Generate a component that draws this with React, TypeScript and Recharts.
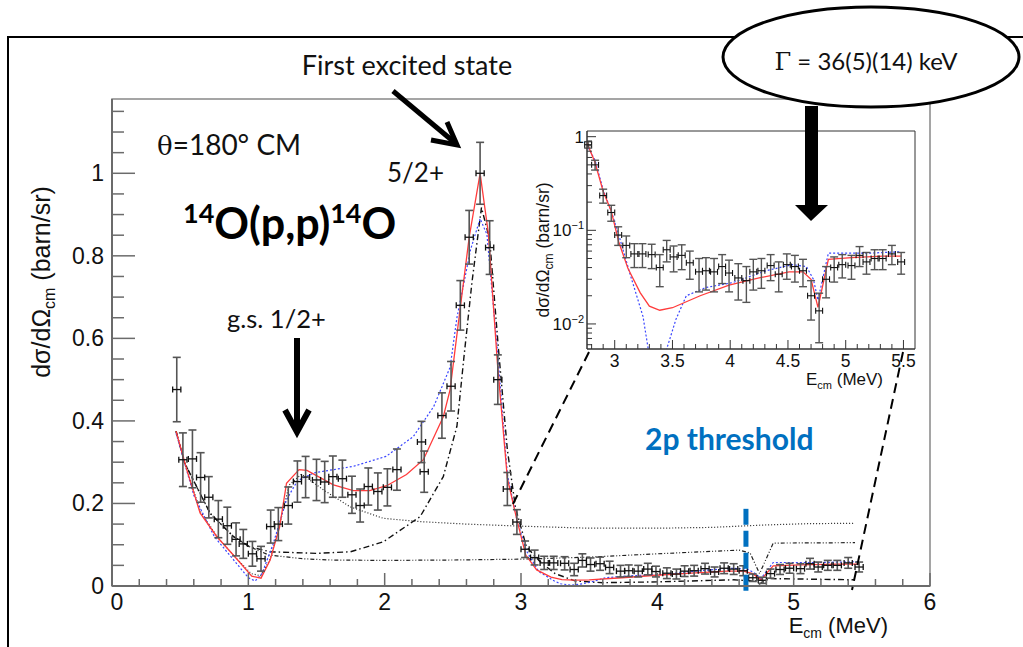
import React from 'react'
import {
  ComposedChart, Line, Scatter, XAxis, YAxis, ErrorBar,
  ReferenceArea, ReferenceLine,
} from 'recharts'

// measured points, 14O(p,p) at 180 deg CM
const dataE = [
  0.475, 0.52, 0.59, 0.65, 0.71, 0.78, 0.846, 0.91, 0.963, 1.03, 1.093, 1.164, 1.22, 1.293,
  1.36, 1.42, 1.5, 1.56, 1.62, 1.69, 1.76, 1.82, 1.88, 1.95, 2.02, 2.09, 2.27, 2.29, 2.42,
  2.487, 2.555, 2.62, 2.7, 2.77, 2.83, 2.9, 2.97, 3.03, 3.1, 3.17, 3.24, 3.32, 3.39, 3.45,
  3.51, 3.58, 3.65, 3.73, 3.79, 3.86, 3.93, 3.99, 4.07, 4.14, 4.2, 4.27, 4.35, 4.42, 4.49,
  4.56, 4.63, 4.7, 4.77, 4.83, 4.9, 4.97, 5.05, 5.12, 5.18, 5.25, 5.32, 5.4, 5.48,
]
const dataXs = [
  0.476, 0.306, 0.308, 0.263, 0.215, 0.162, 0.146, 0.113, 0.102, 0.078, 0.066, 0.144, 0.15, 0.195,
  0.253, 0.264, 0.257, 0.252, 0.265, 0.26, 0.221, 0.195, 0.241, 0.229, 0.239, 0.282, 0.349, 0.277, 0.413,
  0.484, 0.68, 0.845, 1.0, 0.82, 0.5, 0.235, 0.155, 0.089, 0.069, 0.056, 0.056, 0.055, 0.04, 0.062,
  0.052, 0.054, 0.045, 0.036, 0.037, 0.036, 0.041, 0.035, 0.031, 0.029, 0.036, 0.037, 0.042, 0.034, 0.043,
  0.041, 0.037, 0.02, 0.0138, 0.03, 0.04, 0.043, 0.042, 0.054, 0.046, 0.05, 0.05, 0.056, 0.046,
]
const dataErr = [
  0.078, 0.065, 0.07, 0.06, 0.05, 0.045, 0.045, 0.04, 0.035, 0.03, 0.03, 0.04, 0.04, 0.045,
  0.05, 0.05, 0.05, 0.05, 0.05, 0.045, 0.045, 0.04, 0.045, 0.045, 0.045, 0.05, 0.05, 0.05, 0.055,
  0.06, 0.06, 0.065, 0.075, 0.065, 0.06, 0.04, 0.03, 0.02, 0.018, 0.016, 0.016, 0.016, 0.015, 0.016,
  0.016, 0.016, 0.015, 0.014, 0.014, 0.014, 0.014, 0.013, 0.013, 0.012, 0.013, 0.013, 0.013, 0.012, 0.013,
  0.013, 0.012, 0.009, 0.0075, 0.011, 0.012, 0.012, 0.012, 0.013, 0.012, 0.012, 0.012, 0.013, 0.012,
]
const binHalf = 0.03

// R-matrix fit (red)
const fitE = [
  0.47, 0.55, 0.646, 0.768, 0.89, 1.025, 1.093, 1.16, 1.23, 1.28, 1.372, 1.43, 1.624, 1.77, 1.89,
  2.015, 2.16, 2.284, 2.43, 2.48, 2.553, 2.62, 2.7, 2.76, 2.827, 2.9, 2.97, 3.035, 3.115, 3.22,
  3.3, 3.39, 3.5, 3.74, 3.99, 4.25, 4.51, 4.63, 4.7, 4.76, 4.85, 5.05, 5.32, 5.48,
]
const fitXs = [
  0.375, 0.28, 0.177, 0.12, 0.075, 0.024, 0.019, 0.063, 0.144, 0.249, 0.282, 0.28, 0.245, 0.231, 0.231,
  0.243, 0.27, 0.306, 0.41, 0.476, 0.67, 0.845, 1.0, 0.856, 0.54, 0.261, 0.16, 0.075, 0.039, 0.0216,
  0.0155, 0.014, 0.0149, 0.02, 0.026, 0.031, 0.036, 0.036, 0.03, 0.015, 0.049, 0.051, 0.053, 0.053,
]

// alternative calculation (blue dotted)
const altE = [
  0.47, 0.6, 0.75, 0.9, 1.0, 1.05, 1.1, 1.18, 1.28, 1.36, 1.48, 1.77, 2.01, 2.21, 2.36, 2.48,
  2.53, 2.63, 2.7, 2.75, 2.83, 2.9, 2.97, 3.04, 3.13, 3.245, 3.29, 3.37, 3.45, 3.53, 3.62, 3.79,
  4.02, 4.31, 4.54, 4.66, 4.72, 4.76, 4.85, 5.2, 5.48,
]
const altXs = [
  0.37, 0.22, 0.12, 0.06, 0.02, 0.012, 0.03, 0.1, 0.209, 0.255, 0.274, 0.29, 0.314, 0.362, 0.435, 0.53,
  0.65, 0.815, 0.89, 0.852, 0.56, 0.27, 0.16, 0.085, 0.035, 0.012, 0.0054, 0.002, 0.0054, 0.0112, 0.02, 0.0245,
  0.0276, 0.037, 0.043, 0.041, 0.03, 0.018, 0.057, 0.057, 0.059,
]

// partial-wave contributions (black)
const sWaveE = [
  0.47, 0.55, 0.65, 0.77, 0.89, 1.02, 1.09, 1.16, 1.23, 1.3, 1.39, 1.55, 1.746, 1.99, 2.26, 2.6,
  3.0, 3.5, 4.0, 4.4, 4.8, 5.1, 5.45,
]
const sWaveXs = [
  0.375, 0.28, 0.18, 0.12, 0.075, 0.03, 0.025, 0.065, 0.15, 0.245, 0.271, 0.233, 0.192, 0.164, 0.156, 0.15,
  0.145, 0.14, 0.14, 0.142, 0.148, 0.151, 0.152,
]
const dWaveE = [
  0.47, 0.53, 0.72, 0.89, 1.01, 1.16, 1.5, 1.75, 1.99, 2.26, 2.43, 2.53, 2.58, 2.64, 2.71, 2.77,
  2.835, 2.9, 2.96, 3.04, 3.14, 3.25, 3.4, 3.6, 4.0, 4.56, 4.72, 4.75, 4.82, 5.45,
]
const dWaveXs = [
  0.375, 0.3, 0.176, 0.12, 0.095, 0.083, 0.079, 0.083, 0.107, 0.168, 0.265, 0.387, 0.55, 0.735, 0.917, 0.84,
  0.573, 0.33, 0.189, 0.095, 0.059, 0.03, 0.012, 0.008, 0.01, 0.015, 0.012, 0.005, 0.018, 0.015,
]
const bgE = [0.47, 0.53, 0.72, 0.89, 1.01, 1.15, 1.4, 1.6, 2.0, 2.5, 3.0, 3.5, 4.0, 4.6, 4.68, 4.75, 4.85, 5.45]
const bgXs = [0.375, 0.3, 0.176, 0.12, 0.095, 0.075, 0.066, 0.063, 0.062, 0.063, 0.065, 0.07, 0.078, 0.087, 0.08, 0.03, 0.104, 0.105]

const thresholdE = 4.65

const mainXTicks = Array.from({ length: 31 }, (_, i) => +(i * 0.2).toFixed(1))
const mainYTicks = Array.from({ length: 24 }, (_, i) => +(i * 0.05).toFixed(2))
const insetXTicks = Array.from({ length: 28 }, (_, i) => +(2.8 + i * 0.1).toFixed(1))
const insetYTicks = [0.006, 0.007, 0.008, 0.009, 0.01, 0.02, 0.03, 0.04, 0.05, 0.06, 0.07, 0.08, 0.09,
  0.1, 0.2, 0.3, 0.4, 0.5, 0.6, 0.7, 0.8, 0.9, 1]

const toXY = (xs: number[], ys: number[]) => xs.map((x, i) => ({ x, y: ys[i] }))
const points = dataE.map((x, i) => ({ x, y: dataXs[i], ey: dataErr[i], ex: binHalf }))
const insetPoints = points.filter(p => p.x >= 2.76)
const fit = toXY(fitE, fitXs)
const alt = toXY(altE, altXs)
const sWave = toXY(sWaveE, sWaveXs)
const dWave = toXY(dWaveE, dWaveXs)
const bg = toXY(bgE, bgXs)

const AXIS = '#6b6b6b'
const HELV = '"Liberation Sans", Arial, sans-serif'
const CAL = 'Lato, "Open Sans", sans-serif'
const RED = '#ff3b3b'
const BLUE = '#3a46ff'

const noMarker = () => <g />

function MainXTick({ x, y, payload }: any) {
  const v = payload.value
  const major = Math.abs(v - Math.round(v)) < 1e-6
  return (
    <g>
      <line x1={x} x2={x} y1={y} y2={y - (major ? 13 : 7)} stroke={AXIS} strokeWidth={1.5} />
      {major && (
        <text x={v === 0 ? x + 5 : x} y={y + 24} textAnchor="middle" fontSize={23} fontFamily={HELV} fill="#111">
          {v}
        </text>
      )}
    </g>
  )
}

function MainYTick({ x, y, payload }: any) {
  const v = payload.value
  const major = Math.abs(v * 5 - Math.round(v * 5)) < 1e-6
  return (
    <g>
      <line x1={x} x2={x + (major ? 23 : 12)} y1={y} y2={y} stroke={AXIS} strokeWidth={1.5} />
      {major && (
        <text x={x - 8} y={y + 8} textAnchor="end" fontSize={23} fontFamily={HELV} fill="#111">
          {v}
        </text>
      )}
    </g>
  )
}

function InsetXTick({ x, y, payload }: any) {
  const v = payload.value
  const major = Math.abs(v * 2 - Math.round(v * 2)) < 1e-6
  return (
    <g>
      <line x1={x} x2={x} y1={y} y2={y - (major ? 9 : 5)} stroke="#333" strokeWidth={1} />
      {major && (
        <text x={x} y={y + 18} textAnchor="middle" fontSize={17.5} fontFamily={HELV} fill="#111">
          {v}
        </text>
      )}
    </g>
  )
}

function InsetYTick({ x, y, payload }: any) {
  const v = payload.value
  const exp = Math.round(Math.log10(v))
  const major = Math.abs(Math.log10(v) - exp) < 1e-6
  return (
    <g>
      <line x1={x} x2={x + (major ? 9 : 5)} y1={y} y2={y} stroke="#333" strokeWidth={1} />
      {major && (
        <text x={x - 3} y={y + 6} textAnchor="end" fontSize={17} fontFamily={HELV} fill="#111">
          {exp === 0 ? '1' : <>10<tspan dy={-7} fontSize={11}>{'\u2212' + Math.abs(exp)}</tspan></>}
        </text>
      )}
    </g>
  )
}

function Annotations() {
  return (
    <svg width={1023} height={647} style={{ position: 'absolute', left: 0, top: 0, pointerEvents: 'none' }}>
      {/* slide frame */}
      <path d="M8,647 L8,37 L1023,37" fill="none" stroke="#000" strokeWidth={2} />

      <text x={407} y={75} textAnchor="middle" fontSize={27} fontFamily={CAL} fill="#111">First excited state</text>
      <line x1={393} y1={91} x2={454} y2={142} stroke="#000" strokeWidth={5} />
      <polyline points="431,140 457,145 447,122" fill="none" stroke="#000" strokeWidth={5} />

      <text x={157} y={155} fontSize={28} fontFamily={CAL} fill="#111">
        <tspan fontFamily='"DejaVu Serif", serif' fontSize={26}>θ</tspan>=180° CM
      </text>
      <text x={387} y={182} fontSize={26} fontFamily={CAL} fill="#111">5/2+</text>
      <text x={183} y={239} fontSize={43} fontWeight="bold" fontFamily={CAL} fill="#000">
        <tspan fontSize={27} dy={-16}>14</tspan>
        <tspan dy={16}>O(p,p)</tspan>
        <tspan fontSize={27} dy={-16}>14</tspan>
        <tspan dy={16}>O</tspan>
      </text>
      <text x={227} y={328} fontSize={25.5} fontFamily={CAL} fill="#111">g.s. 1/2+</text>
      <line x1={297} y1={338} x2={297} y2={430} stroke="#000" strokeWidth={6} />
      <polyline points="285,410 297,432 309,410" fill="none" stroke="#000" strokeWidth={6} />

      <text x={645} y={450} fontSize={30} fontWeight="bold" fontFamily={CAL} fill="#0070c0">2p threshold</text>

      {/* zoom guides to inset */}
      <line x1={589} y1={352} x2={511} y2={508} stroke="#000" strokeWidth={2} strokeDasharray="10 6" />
      <line x1={903} y1={352} x2={852} y2={590} stroke="#000" strokeWidth={2} strokeDasharray="10 6" />

      {/* width callout */}
      <ellipse cx={871} cy={57} rx={148} ry={50} fill="#fff" stroke="#000" strokeWidth={3} />
      <text x={866} y={70} textAnchor="middle" fontSize={24} fontFamily={CAL} fill="#111">
        <tspan fontFamily='"DejaVu Serif", serif'>Γ</tspan> = 36(5)(14) keV
      </text>
      <rect x={805} y={106} width={13} height={100} fill="#000" />
      <polygon points="795,205 828,205 811,221" fill="#000" />

      {/* axis titles */}
      <text transform="translate(50,282) rotate(-90)" textAnchor="middle" fontSize={25} fontFamily={HELV} fill="#111">
        dσ/dΩ<tspan fontSize={16} dy={5}>cm</tspan><tspan dy={-5}> (barn/sr)</tspan>
      </text>
      <text x={888} y={633} textAnchor="end" fontSize={22} fontFamily={HELV} fill="#111">
        E<tspan fontSize={14} dy={5}>cm</tspan><tspan dy={-5}> (MeV)</tspan>
      </text>
      <text transform="translate(549,250) rotate(-90)" textAnchor="middle" fontSize={17.5} fontFamily={HELV} fill="#111">
        dσ/dΩ<tspan fontSize={12} dy={4}>cm</tspan><tspan dy={-4}> (barn/sr)</tspan>
      </text>
      <text x={883} y={385} textAnchor="end" fontSize={17} fontFamily={HELV} fill="#111">
        E<tspan fontSize={11} dy={4}>cm</tspan><tspan dy={-4}> (MeV)</tspan>
      </text>
    </svg>
  )
}

export default function App() {
  return (
    <div style={{ position: 'absolute', left: 0, top: 0, width: 1023, height: 647, background: '#fff', overflow: 'hidden' }}>
      <ComposedChart width={1023} height={647} margin={{ top: 99, right: 93, bottom: 31, left: 52 }}>
        <XAxis
          dataKey="x" type="number" domain={[0, 6]} ticks={mainXTicks} interval={0}
          tick={<MainXTick />} tickSize={0} tickMargin={0} height={30}
          axisLine={{ stroke: AXIS, strokeWidth: 2 }} tickLine={false}
        />
        <YAxis
          type="number" domain={[0, 1.18]} ticks={mainYTicks} interval={0}
          tick={<MainYTick />} tickSize={0} tickMargin={0} width={60}
          axisLine={{ stroke: AXIS, strokeWidth: 2 }} tickLine={false}
        />
        <ReferenceArea x1={0} x2={6} y1={0} y2={1.18} fill="none" stroke="#888" strokeWidth={1.5} />
        <Line data={bg} dataKey="y" stroke="#222" strokeWidth={1.2} strokeDasharray="4 2 1 2 1 2" dot={false} isAnimationActive={false} />
        <Line data={sWave} dataKey="y" stroke="#222" strokeWidth={1.2} strokeDasharray="1 2" dot={false} isAnimationActive={false} />
        <Line data={dWave} dataKey="y" stroke="#111" strokeWidth={1.4} strokeDasharray="6 3 1.5 3" dot={false} isAnimationActive={false} />
        <Line data={alt} dataKey="y" stroke={BLUE} strokeWidth={1.2} strokeDasharray="2 2" dot={false} isAnimationActive={false} />
        <Line data={fit} dataKey="y" stroke={RED} strokeWidth={1.3} dot={false} isAnimationActive={false} />
        <Scatter data={points} dataKey="y" shape={noMarker} isAnimationActive={false}>
          <ErrorBar dataKey="ey" direction="y" width={4} stroke="#555" strokeWidth={1.6} />
          <ErrorBar dataKey="ex" direction="x" width={3} stroke="#111" strokeWidth={1.3} />
        </Scatter>
        <ReferenceLine
          segment={[{ x: thresholdE, y: 0.187 }, { x: thresholdE, y: -0.015 }]}
          ifOverflow="visible" stroke="#0070c0" strokeWidth={5} strokeDasharray="16 6"
        />
      </ComposedChart>

      <div style={{ position: 'absolute', left: 500, top: 110 }}>
        <ComposedChart width={430} height={300} margin={{ top: 21, right: 15, bottom: 31, left: 27 }}>
          <XAxis
            dataKey="x" type="number" domain={[2.76, 5.6]} allowDataOverflow ticks={insetXTicks} interval={0}
            tick={<InsetXTick />} tickSize={0} tickMargin={0} height={30}
            axisLine={{ stroke: '#333' }} tickLine={false}
          />
          <YAxis
            type="number" scale="log" domain={[0.0054, 1.15]} allowDataOverflow ticks={insetYTicks} interval={0}
            tick={<InsetYTick />} tickSize={0} tickMargin={0} width={60}
            axisLine={{ stroke: '#333' }} tickLine={false}
          />
          <ReferenceArea x1={2.76} x2={5.6} y1={0.0054} y2={1.15} fill="none" stroke="#333" strokeWidth={1} />
          <Line data={alt} dataKey="y" stroke={BLUE} strokeWidth={1.2} strokeDasharray="2 2" dot={false} isAnimationActive={false} />
          <Line data={fit} dataKey="y" stroke={RED} strokeWidth={1.3} dot={false} isAnimationActive={false} />
          <Scatter data={insetPoints} dataKey="y" shape={noMarker} isAnimationActive={false}>
            <ErrorBar dataKey="ey" direction="y" width={4} stroke="#555" strokeWidth={1.4} />
            <ErrorBar dataKey="ex" direction="x" width={3} stroke="#111" strokeWidth={1.1} />
          </Scatter>
        </ComposedChart>
      </div>

      <Annotations />
    </div>
  )
}
